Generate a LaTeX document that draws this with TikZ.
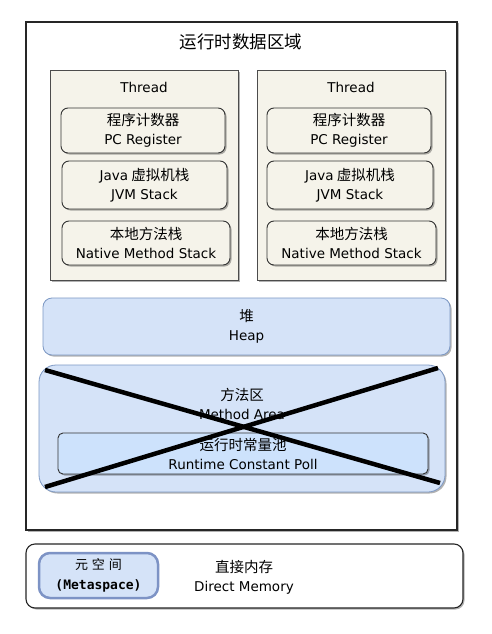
\documentclass[tikz,border=0pt]{standalone}
\usepackage{fontspec}
\setmainfont{Noto Sans CJK SC}
\newfontfamily\metafont{DejaVu Sans Mono}
\newfontfamily\enfont{DejaVu Sans}
\usetikzlibrary{positioning, shadows}

\definecolor{threadfill}{HTML}{F5F3EA}
\definecolor{heapfill}{HTML}{D5E3F8}
\definecolor{heapedge}{HTML}{7C98C4}
\definecolor{poolfill}{HTML}{CDE2FC}
\definecolor{metaedge}{HTML}{7D93C5}

\newcommand{\en}[1]{{\enfont\fontsize{13.5}{19}\selectfont #1}}

\tikzset{
  softshadow/.style={drop shadow={shadow xshift=1.5pt, shadow yshift=-1.5pt,
                     fill=black, opacity=0.3}},
  threadbox/.style={draw=black!70, fill=threadfill, line width=0.9pt,
                    minimum width=188pt, minimum height=210pt, softshadow},
  partbox/.style={draw=black!80, fill=threadfill, line width=0.9pt,
                  rounded corners=7pt, align=center, softshadow},
  heapbox/.style={draw=heapedge, fill=heapfill, line width=0.8pt,
                  align=center, softshadow},
  txt/.style={align=center, font=\fontsize{14.5}{19}\selectfont}
}

\begin{document}
\begin{tikzpicture}[x=1pt, y=-1pt, every node/.style={inner sep=0pt},
                    font=\fontsize{14.5}{19}\selectfont]
        \useasboundingbox (0,0) rectangle (492,634);
        \fill[white] (0,0) rectangle (492,634);

        % runtime data area
        \node[draw=black!85,
              fill=white,
              line width=1.1pt,
              minimum width=431pt,
              minimum height=508pt,
              softshadow] (area) at (241.5,276) {};
        \node[font=\fontsize{17.5}{20}\selectfont] (title) at (241,42) {运行时数据区域};

        % two threads
        \node[threadbox] (threadA) at (144,175) {};
        \node[threadbox] (threadB) at (351,175) {};
        \node[txt] (nameA) at (144,87) {\en{Thread}};
        \node[txt] (nameB) at (351,87) {\en{Thread}};

        \node[partbox, minimum width=164pt, minimum height=45pt] (pcA) at (143,130.5)
            {程序计数器\\\en{PC Register}};
        \node[partbox, minimum width=165pt, minimum height=48pt] (jvmA) at (144.5,185)
            {\en{Java} 虚拟机栈\\\en{JVM Stack}};
        \node[partbox, minimum width=168pt, minimum height=44pt] (nativeA) at (146,243)
            {本地方法栈\\\en{Native Method Stack}};

        \node[partbox, minimum width=164pt, minimum height=45pt] (pcB) at (349,130.5)
            {程序计数器\\\en{PC Register}};
        \node[partbox, minimum width=166pt, minimum height=48pt] (jvmB) at (350,185)
            {\en{Java} 虚拟机栈\\\en{JVM Stack}};
        \node[partbox, minimum width=169pt, minimum height=44pt] (nativeB) at (351.5,243)
            {本地方法栈\\\en{Native Method Stack}};

        % heap and method area
        \node[heapbox,
              rounded corners=9pt,
              minimum width=407pt,
              minimum height=57pt] (heap) at (246.5,326.5) {堆\\\en{Heap}};
        \node[heapbox,
              rounded corners=17pt,
              minimum width=406pt,
              minimum height=127pt] (method) at (242,428.5) {};
        \node[txt] (methodname) at (242,404) {方法区\\\en{Method Area}};
        \node[partbox,
              fill=poolfill,
              rounded corners=5pt,
              minimum width=370pt,
              minimum height=41pt] (pool) at (243,453.5)
            {运行时常量池\\\en{Runtime Constant Poll}};

        % crossed out
        \coordinate (crossA) at (45,370);
        \coordinate (crossB) at (440,483);
        \coordinate (crossC) at (45,487);
        \coordinate (crossD) at (438,368);
        \draw[line width=4.5pt] (crossA) -- (crossB);
        \draw[line width=4.5pt] (crossC) -- (crossD);

        % direct memory
        \node[draw=black!85,
              fill=white,
              line width=1.1pt,
              rounded corners=9pt,
              minimum width=437pt,
              minimum height=64pt,
              softshadow] (direct) at (244.5,576) {};
        \node[draw=metaedge,
              fill=heapfill,
              line width=2.5pt,
              rounded corners=11pt,
              minimum width=119pt,
              minimum height=45pt,
              align=center,
              font=\fontsize{13}{20}\selectfont] (meta) at (98.5,575.5)
            {元\hspace{4pt}空\hspace{4pt}间\\{\metafont\bfseries (Metaspace)}};
        \node[txt] (directname) at (244,577) {直接内存\\\en{Direct Memory}};
\end{tikzpicture}
\end{document}
